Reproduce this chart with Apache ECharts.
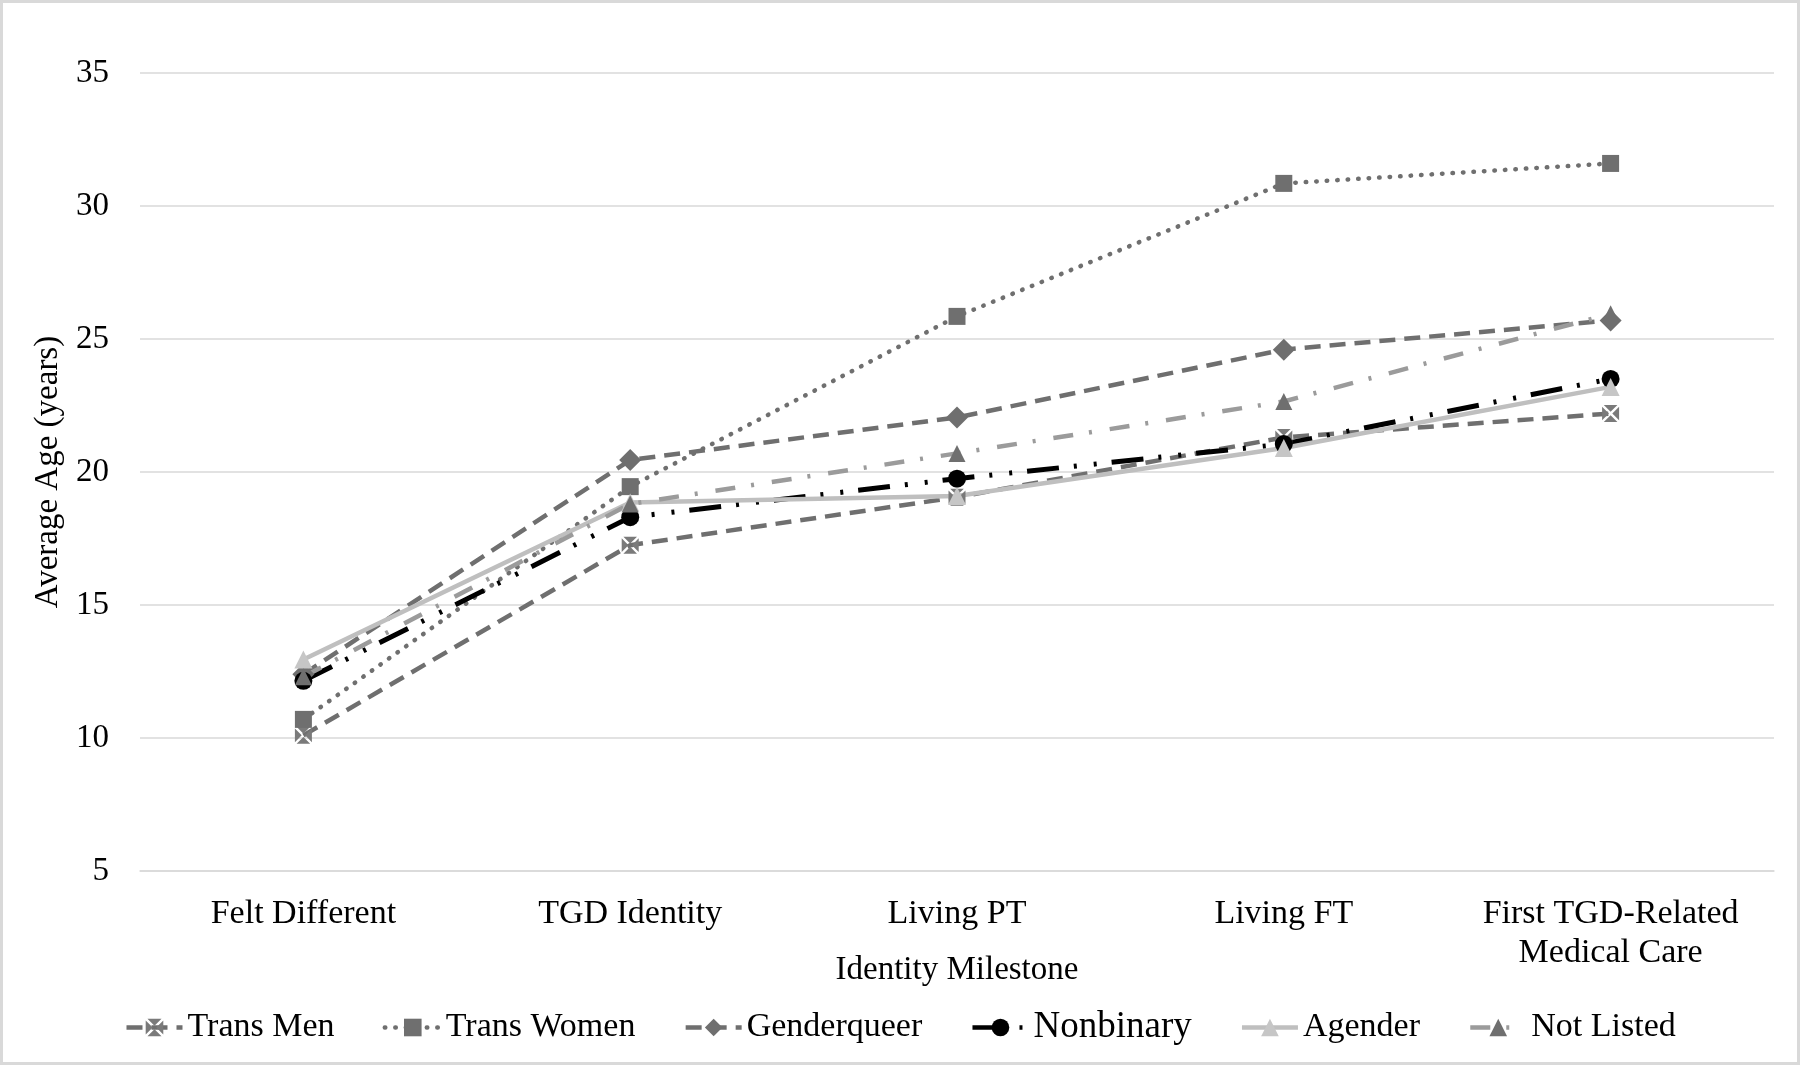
<!DOCTYPE html>
<html>
<head>
<meta charset="utf-8">
<script src="https://cdn.jsdelivr.net/npm/echarts@6/dist/echarts.min.js"></script>
<style>
html,body{margin:0;padding:0;background:#fff;}
#chart{width:1800px;height:1065px;}
</style>
</head>
<body>
<div id="chart"></div>
<script>
const categories = ['Felt Different', 'TGD Identity', 'Living PT', 'Living FT', 'First TGD-Related\nMedical Care'];
const yTicks = [5, 10, 15, 20, 25, 30, 35];
const transMen    = [10.1, 17.25, 19.05, 21.3, 22.2];
const transWomen  = [10.7, 19.45, 25.85, 30.85, 31.6];
const genderqueer = [12.4, 20.45, 22.05, 24.6, 25.7];
const nonbinary   = [12.15, 18.3, 19.75, 21.05, 23.5];
const agender     = [12.95, 18.85, 19.1, 20.9, 23.2];
const notListed   = [12.3, 18.8, 20.7, 22.65, 25.95];

const FONT = 'Liberation Serif';
const boxX = 'path://M1,0L9,0L5,4ZM10,1L10,9L6,5ZM1,10L9,10L5,6ZM0,1L0,9L4,5Z';

const chart = echarts.init(document.getElementById('chart'));
chart.setOption({
  animation: false,
  backgroundColor: '#fff',
  textStyle: {fontFamily: FONT, color: '#000'},
  graphic: [{
    type: 'rect', z: 100, silent: true,
    shape: {x: 1.5, y: 1.5, width: 1797, height: 1062},
    style: {fill: 'none', stroke: '#d9d9d9', lineWidth: 3}
  }],
  grid: {left: 140, right: 26, top: 73, bottom: 194, containLabel: false},
  legend: {
    bottom: 14,
    left: 'center',
    itemWidth: 56,
    itemHeight: 22,
    itemGap: 48,
    lineStyle: {width: 4.5},
    textStyle: {fontFamily: FONT, fontSize: 34, color: '#000'},
    data: [
      {name: 'Trans Men'},
      {name: 'Trans Women'},
      {name: 'Genderqueer'},
      {name: 'Nonbinary', textStyle: {fontSize: 37}},
      {name: 'Agender'},
      {name: 'Not Listed'}
    ]
  },
  xAxis: {
    type: 'category',
    data: categories,
    boundaryGap: true,
    name: 'Identity Milestone',
    nameLocation: 'middle',
    nameGap: 83,
    nameMoveOverlap: false,
    nameTextStyle: {fontFamily: FONT, fontSize: 33, color: '#000'},
    axisLine: {show: true, lineStyle: {color: '#d9d9d9', width: 1.5}},
    axisTick: {show: false},
    axisLabel: {fontFamily: FONT, fontSize: 34, color: '#000', margin: 24, lineHeight: 39, interval: 0}
  },
  yAxis: {
    type: 'value',
    min: yTicks[0],
    max: yTicks[yTicks.length - 1],
    interval: 5,
    name: 'Average Age (years)',
    nameLocation: 'middle',
    nameGap: 75,
    nameRotate: 90,
    nameMoveOverlap: false,
    nameTextStyle: {fontFamily: FONT, fontSize: 33, color: '#000'},
    axisLine: {show: false},
    axisTick: {show: false},
    axisLabel: {fontFamily: FONT, fontSize: 33, color: '#000', margin: 31},
    splitLine: {lineStyle: {color: '#d9d9d9', width: 1.5}}
  },
  series: [
    {
      name: 'Trans Men', type: 'line', data: transMen,
      symbol: boxX, symbolSize: 17,
      itemStyle: {color: '#7a7a7a'},
      lineStyle: {color: '#6f6f6f', width: 4.5, type: [16, 9]}
    },
    {
      name: 'Trans Women', type: 'line', data: transWomen,
      symbol: 'rect', symbolSize: 17,
      itemStyle: {color: '#6f6f6f'},
      lineStyle: {color: '#6f6f6f', width: 4.5, type: [0.5, 10], cap: 'round'}
    },
    {
      name: 'Genderqueer', type: 'line', data: genderqueer,
      symbol: 'diamond', symbolSize: 22,
      itemStyle: {color: '#6f6f6f'},
      lineStyle: {color: '#6f6f6f', width: 4.5, type: [16, 9]}
    },
    {
      name: 'Nonbinary', type: 'line', data: nonbinary,
      symbol: 'circle', symbolSize: 18,
      itemStyle: {color: '#000'},
      lineStyle: {color: '#000', width: 5, type: [32, 15, 3, 17, 3, 15]}
    },
    {
      name: 'Agender', type: 'line', data: agender,
      symbol: 'triangle', symbolSize: 18,
      itemStyle: {color: '#c6c6c6'},
      lineStyle: {color: '#bfbfbf', width: 4.5, type: 'solid'}
    },
    {
      name: 'Not Listed', type: 'line', data: notListed,
      symbol: 'triangle', symbolSize: 17,
      itemStyle: {color: '#6f6f6f'},
      lineStyle: {color: '#9b9b9b', width: 4.5, type: [20, 16, 3, 18]}
    }
  ]
});
</script>
</body>
</html>
